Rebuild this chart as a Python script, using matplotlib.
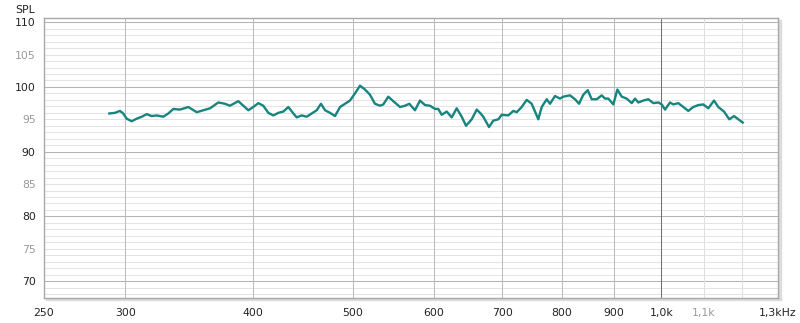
import numpy as np
import matplotlib
matplotlib.use("Agg")
import matplotlib.pyplot as plt
from matplotlib.ticker import FixedLocator, NullFormatter
from matplotlib.patches import Rectangle

# frequency response (Hz, dB SPL)
freq = [289.5, 293.2, 296.5, 298.7, 301.0, 304.4, 307.9, 311.4, 314.9, 318.4,
        322.0, 326.8, 330.5, 334.3, 339.3, 345.7, 352.3, 357.5, 363.0, 369.8,
        375.4, 379.6, 386.8, 391.2, 395.6, 400.0, 404.6, 409.1, 413.8, 418.4,
        423.2, 428.0, 432.8, 437.7, 441.0, 446.0, 451.0, 456.1, 461.3, 465.7,
        470.0, 475.3, 480.6, 486.1, 491.5, 497.1, 502.7, 508.4, 514.1, 519.9,
        525.8, 531.7, 535.7, 541.7, 547.9, 556.2, 562.5, 567.9, 575.2, 581.7,
        588.3, 594.9, 601.7, 606.1, 610.8, 617.7, 624.7, 631.7, 638.9, 645.1,
        653.4, 660.8, 665.7, 670.6, 679.3, 685.9, 693.6, 698.9, 709.4, 717.4,
        722.9, 731.0, 739.3, 747.6, 753.2, 758.8, 764.6, 773.3, 779.0, 787.8,
        796.7, 802.6, 814.8, 824.0, 831.5, 839.5, 847.9, 855.5, 865.2, 874.9,
        881.5, 888.0, 898.1, 906.2, 915.2, 925.5, 936.0, 942.9, 949.9, 960.7,
        971.5, 982.5, 993.6, 1001.2, 1008.6, 1020.0, 1027.6, 1039.2, 1050.9, 1062.8,
        1074.8, 1086.9, 1099.2, 1111.6, 1126.0, 1136.9, 1151.5, 1165.3, 1177.7, 1189.1,
        1201.0]
spl = [95.9, 96.0, 96.3, 95.9, 95.1, 94.7, 95.1, 95.4, 95.8, 95.5,
       95.6, 95.4, 95.9, 96.6, 96.5, 96.9, 96.1, 96.4, 96.7, 97.6,
       97.4, 97.1, 97.8, 97.1, 96.4, 96.9, 97.5, 97.1, 96.0, 95.6,
       96.0, 96.2, 96.9, 95.9, 95.3, 95.6, 95.4, 95.9, 96.4, 97.4,
       96.4, 96.0, 95.5, 96.9, 97.4, 97.9, 99.0, 100.2, 99.6, 98.8,
       97.4, 97.1, 97.3, 98.5, 97.8, 96.9, 97.1, 97.4, 96.4, 97.9,
       97.2, 97.1, 96.6, 96.6, 95.7, 96.2, 95.3, 96.7, 95.4, 94.0,
       95.0, 96.5, 96.0, 95.4, 93.8, 94.8, 95.0, 95.7, 95.6, 96.3,
       96.1, 96.9, 98.0, 97.4, 96.2, 95.0, 96.9, 98.1, 97.4, 98.6,
       98.2, 98.5, 98.7, 98.1, 97.4, 98.8, 99.5, 98.1, 98.1, 98.7,
       98.2, 98.2, 97.3, 99.6, 98.5, 98.2, 97.5, 98.2, 97.6, 97.9,
       98.1, 97.5, 97.6, 97.3, 96.5, 97.6, 97.3, 97.5, 96.9, 96.3,
       96.9, 97.2, 97.3, 96.7, 97.9, 96.9, 96.2, 95.0, 95.5, 95.0,
       94.5]

x_ticks = [250, 300, 400, 500, 600, 700, 800, 900, 1000, 1100, 1300]
x_labels = ["250", "300", "400", "500", "600", "700", "800", "900", "1,0k", "1,1k", "1,3kHz"]
x_grid = [300, 400, 500, 600, 700, 800, 900, 1100, 1200]
y_ticks = [70, 75, 80, 85, 90, 95, 100, 105, 110]

fig = plt.figure(figsize=(8, 3.23), dpi=100)
fig.patch.set_facecolor("white")
ax = fig.add_axes([0.055, 0.0774, 0.9175, 0.8669])

ax.set_xscale("log")
ax.set_xlim(250, 1300)
ax.set_ylim(67.4, 110.65)

# horizontal grid: every dB light, every 10 dB darker
for v in range(68, 111):
    c = "#b4b4b4" if v % 10 == 0 else "#e4e4e4"
    ax.axhline(v, color=c, lw=0.75, zorder=1)
for f in x_grid:
    c = "#bdbdbd" if f <= 900 else "#e0e0e0"
    ax.axvline(f, color=c, lw=0.75, zorder=1)
ax.axvline(1000, color="#707070", lw=0.75, zorder=1)

ax.plot(freq, spl, color="#17857f", lw=1.7, zorder=3, solid_joinstyle="round")

ax.xaxis.set_major_locator(FixedLocator(x_ticks))
ax.xaxis.set_minor_locator(FixedLocator([]))
ax.xaxis.set_minor_formatter(NullFormatter())
ax.set_xticklabels(x_labels)
ax.set_yticks(y_ticks)
ax.set_yticklabels([str(v) for v in y_ticks])
ax.tick_params(length=0, labelsize=7.8, pad=6)
ax.tick_params(axis="x", pad=7)
for lab, t in zip(ax.get_xticklabels(), x_ticks):
    lab.set_color("#999999" if t == 1100 else "#222222")
for lab, t in zip(ax.get_yticklabels(), y_ticks):
    lab.set_color("#222222" if t % 10 == 0 else "#999999")

for s in ax.spines.values():
    s.set_color("#a8a8a8")
    s.set_linewidth(1.0)

# soft shadow on right and bottom of the frame
fig.add_artist(Rectangle((0.9725, 0.070), 0.0035, 0.868, transform=fig.transFigure,
                         color="#dcdcdc", zorder=0))
fig.add_artist(Rectangle((0.057, 0.070), 0.919, 0.008, transform=fig.transFigure,
                         color="#dcdcdc", zorder=0))

fig.text(0.019, 0.985, "SPL", fontsize=7.8, color="#222222", ha="left", va="top")

fig.savefig("out.png", dpi=100)
